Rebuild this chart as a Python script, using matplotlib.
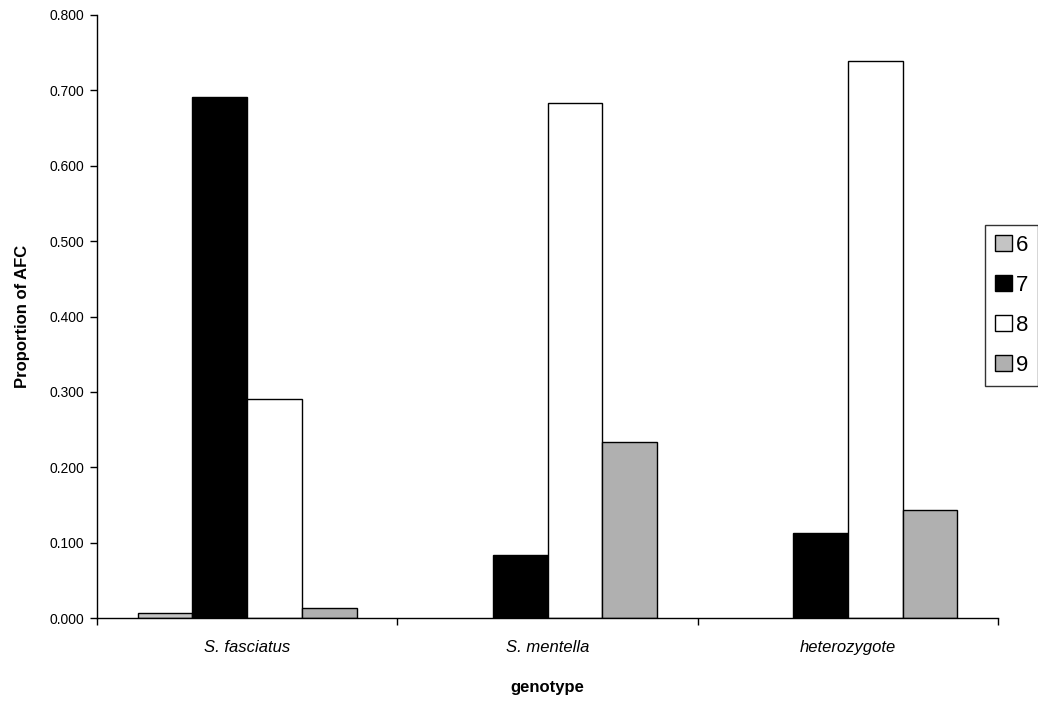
import numpy as np
import matplotlib.pyplot as plt
from matplotlib.patches import Patch

plt.rcParams['font.family'] = ['Liberation Sans', 'DejaVu Sans']

# proportion of AFC per genotype, one list per allele class
genotypes = ['S. fasciatus', 'S. mentella', 'heterozygote']
classes = ['6', '7', '8', '9']
afc_6 = [0.006, 0.0, 0.0]
afc_7 = [0.691, 0.083, 0.113]
afc_8 = [0.291, 0.683, 0.739]
afc_9 = [0.013, 0.233, 0.143]

series = [afc_6, afc_7, afc_8, afc_9]
fills = ['#c4c4c4', '#000000', '#ffffff', '#b0b0b0']

fig = plt.figure(figsize=(10.38, 7.08), dpi=100)
ax = fig.add_axes([97 / 1038, 1 - 618 / 708, 901 / 1038, 603 / 708])

x = np.arange(len(genotypes))
w = 0.1825
for i, (vals, fc) in enumerate(zip(series, fills)):
    # empty classes get no outline
    lw = [1.0 if v > 0 else 0 for v in vals]
    ax.bar(x - 2 * w + i * w, vals, w, align='edge', color=fc,
           edgecolor='black', linewidth=lw, zorder=2)

ax.set_xlim(-0.5, 2.5)
ax.set_ylim(0, 0.8)
ax.set_yticks(np.arange(0, 0.81, 0.1))
ax.set_yticklabels(['%.3f' % v for v in np.arange(0, 0.81, 0.1)], fontsize=10)

# group separators as outward ticks, names centred under each group
ax.set_xticks([-0.5, 0.5, 1.5, 2.5])
ax.set_xticklabels([])
ax.set_xticks(x, minor=True)
ax.set_xticklabels(genotypes, minor=True, fontsize=12, style='italic')
ax.tick_params(axis='x', which='minor', length=0, pad=16)
ax.tick_params(axis='x', which='major', direction='out', length=5, width=1)
ax.tick_params(axis='y', direction='out', length=5, width=1, pad=4)

for s in ['top', 'right']:
    ax.spines[s].set_visible(False)
for s in ['left', 'bottom']:
    ax.spines[s].set_linewidth(1.0)

ax.set_xlabel('genotype', fontsize=12, fontweight='bold', labelpad=18)
ax.set_ylabel('Proportion of AFC', fontsize=12, fontweight='bold', labelpad=14)

handles = [Patch(facecolor=fc, edgecolor='black', linewidth=1.0) for fc in fills]
leg = fig.legend(handles, classes, loc='upper left',
                 bbox_to_anchor=(985 / 1038, 1 - 225 / 708),
                 fontsize=16, frameon=True, fancybox=False,
                 handlelength=0.75, handleheight=0.75, handletextpad=0.2,
                 labelspacing=0.85, borderpad=0.45, borderaxespad=0)
leg.get_frame().set_edgecolor('black')
leg.get_frame().set_linewidth(1.0)

fig.savefig('out.png', dpi=100)
